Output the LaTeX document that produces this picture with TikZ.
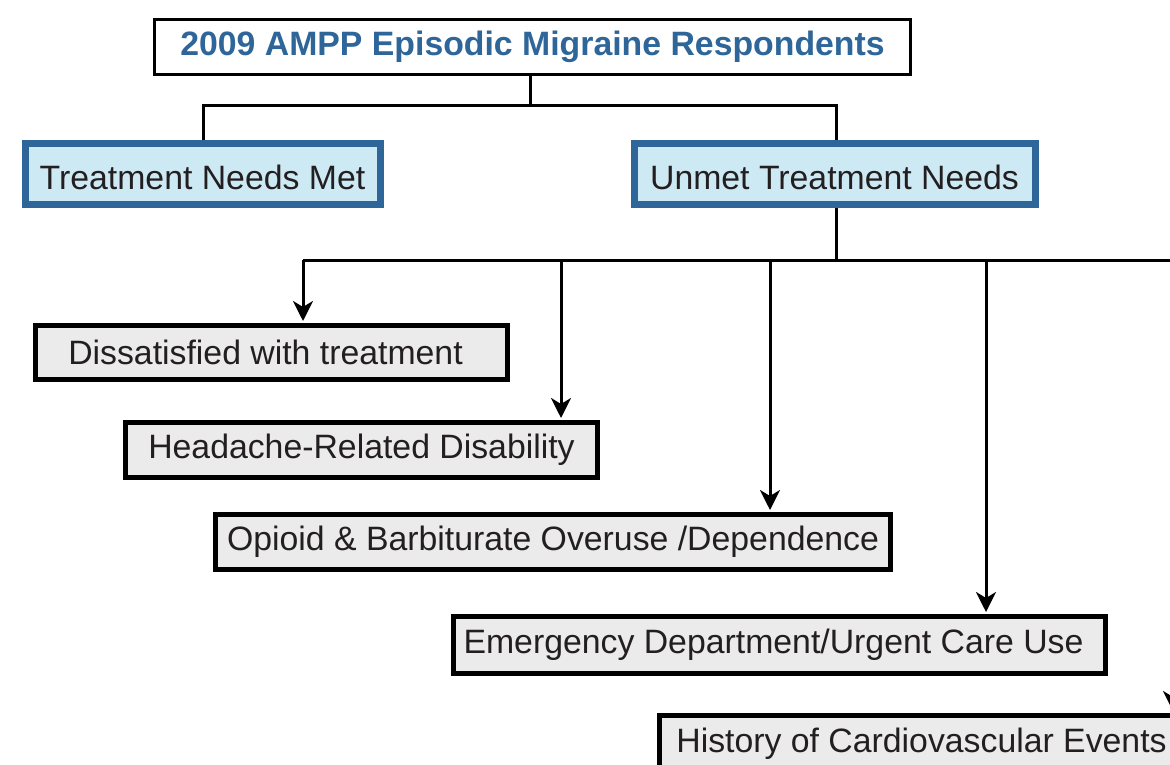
\documentclass[tikz,border=0pt]{standalone}
\usepackage{fontspec}
\setmainfont{Liberation Sans}
\usetikzlibrary{arrows.meta}
\definecolor{ampblue}{HTML}{2E6699}
\definecolor{ampfill}{HTML}{CDEAF4}
\definecolor{grayfill}{HTML}{EBEBEB}
\definecolor{txt}{HTML}{231F20}
\newcommand{\lowertext}[1]{\raisebox{-3pt}[\height][\depth]{#1}}
\tikzset{
  titlebox/.style={draw=black, line width=3pt, fill=white, text=ampblue, inner sep=0pt,
    font=\fontsize{33.8}{40}\selectfont\bfseries},
  bluebox/.style={draw=ampblue, line width=7pt, fill=ampfill, text=txt, inner sep=0pt,
    font=\fontsize{33.8}{40}\selectfont},
  graybox/.style={draw=black, line width=5pt, fill=grayfill, text=txt, inner sep=0pt,
    font=\fontsize{33.8}{40}\selectfont},
  conn/.style={draw=black, line width=3pt, line join=miter},
  arr/.style={conn, -{Stealth[length=20pt,width=20pt,inset=6pt]}, shorten >=2pt},
}
\begin{document}
\begin{tikzpicture}[x=1pt,y=-1pt]
\useasboundingbox (0,0) rectangle (1170,765);
\clip (0,0) rectangle (1170,765);
\fill[white] (0,0) rectangle (1170,765);

\node[titlebox, minimum width=756pt, minimum height=55pt] (title) at (532.5,47) {2009 AMPP Episodic Migraine Respondents};
\node[bluebox, minimum width=355pt, minimum height=60pt] (met) at (202.5,174) {\lowertext{Treatment Needs Met}};
\node[bluebox, minimum width=401pt, minimum height=60pt] (unmet) at (834.5,174) {\lowertext{Unmet Treatment Needs}};

\node[graybox, minimum width=472pt, minimum height=54pt] (d1) at (271.5,352.5) {Dissatisfied with treatment\kern12pt};
\node[graybox, minimum width=472pt, minimum height=55pt] (d2) at (361.5,450) {Headache-Related Disability};
\node[graybox, minimum width=675pt, minimum height=55pt] (d3) at (553,542) {Opioid \& Barbiturate Overuse /Dependence};
\node[graybox, minimum width=652pt, minimum height=57pt] (d4) at (779.5,645) {Emergency Department/Urgent Care Use\kern12pt};
\node[graybox, minimum width=528pt, minimum height=57pt] (d5) at (923.5,744) {History of Cardiovascular Events\kern4pt};

\coordinate (j1) at (530,106);
\coordinate (ml) at (203,106);
\coordinate (mr) at (836,106);
\draw[conn] (title.south -| j1) -- (j1);
\draw[conn] (ml |- met.north) -- (ml) -- (mr) -- (mr |- unmet.north);

\coordinate (j2) at (836,260);
\coordinate (b1) at (303,260);
\coordinate (b2) at (561,260);
\coordinate (b3) at (770,260);
\coordinate (b4) at (986,260);
\coordinate (b5) at (1173,260);
\draw[conn] (unmet.south -| j2) -- (j2);
\draw[conn] (b1) -- (b5);
\draw[arr] (b1) -- (b1 |- d1.north);
\draw[arr] (b2) -- (b2 |- d2.north);
\draw[arr] (b3) -- (b3 |- d3.north);
\draw[arr] (b4) -- (b4 |- d4.north);
\draw[arr] (b5) -- (b5 |- d5.north);
\end{tikzpicture}
\end{document}
